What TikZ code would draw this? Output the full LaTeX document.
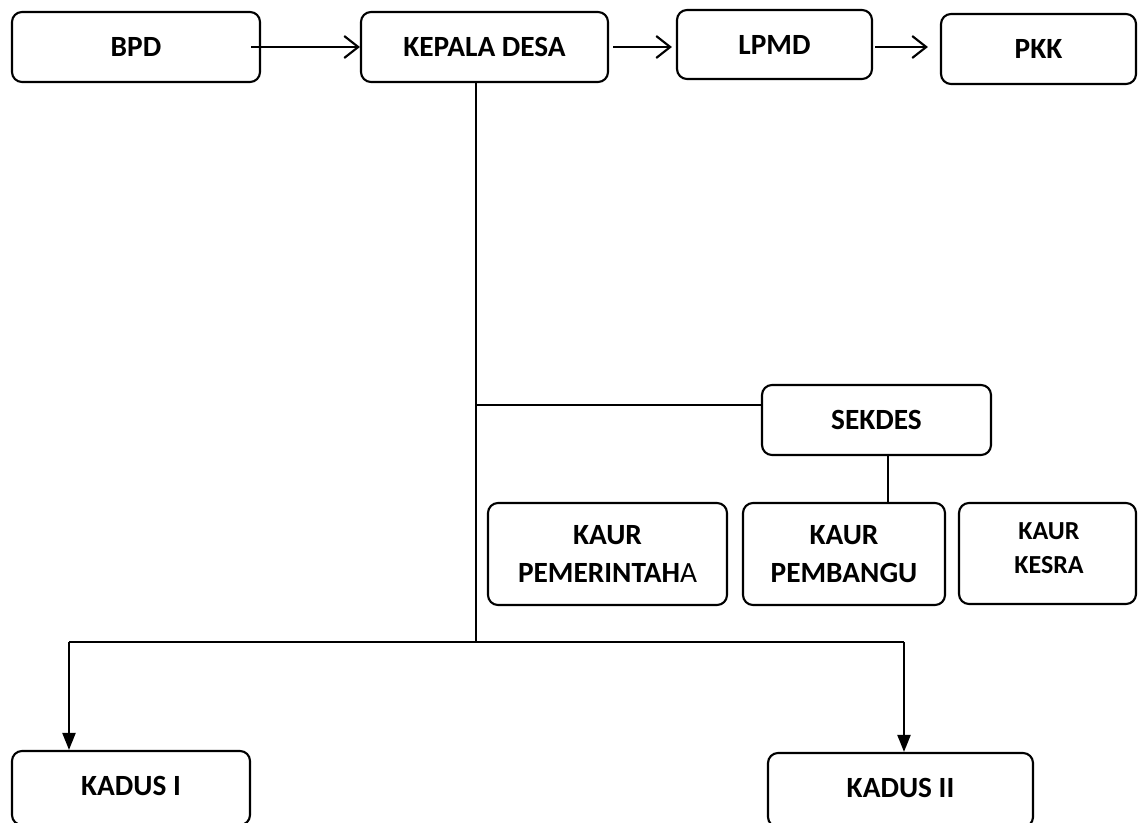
\documentclass[tikz,border=0pt]{standalone}
\usepackage{fontspec}
\setmainfont{Carlito}
\usetikzlibrary{arrows.meta}
\tikzset{
  orgbox/.style={draw, line width=1.6pt, rounded corners=7.5pt, align=center,
    font=\bfseries\fontsize{22}{28.5}\selectfont, inner sep=0pt},
  link/.style={line width=1.6pt},
  openarr/.style={link, -{Straight Barb[length=10.5pt, width=16.5pt]}},
  downarr/.style={link, -{Triangle[length=12.75pt, width=9.75pt]}}
}
\begin{document}
\begin{tikzpicture}[x=0.75pt, y=-0.75pt]
\path[use as bounding box, clip] (0,0) rectangle (1138,823);

% Top row of boxes
\node[orgbox, minimum width=186pt, minimum height=52.5pt] (bpd) at (136,47) {BPD};%
\node[orgbox, minimum width=185.25pt, minimum height=52.5pt] (kades) at (484.5,47) {KEPALA DESA};%
\node[orgbox, minimum width=146.25pt, minimum height=51.75pt] (lpmd) at (774.5,44.5) {LPMD};%
\node[orgbox, minimum width=146.25pt, minimum height=52.5pt] (pkk) at (1038.5,49) {PKK};%

% Arrows between the top boxes
\draw[openarr] ([xshift=-7.5pt]bpd.east) -- (bpd.east -| kades.west);%
\draw[openarr] ([xshift=3pt]kades.east) -- ([xshift=-3pt]kades.east -| lpmd.west);%
\draw[openarr] ([xshift=1.5pt]kades.east -| lpmd.east) -- ([xshift=-9pt]kades.east -| pkk.west);%

% SEKDES and the KAUR boxes
\node[orgbox, minimum width=171.75pt, minimum height=52.5pt] (sekdes) at (876.5,420) {SEKDES};%
\node[orgbox, minimum width=179.25pt, minimum height=76.5pt] (kaurpem) at (607.5,554)
  {KAUR\\PEMERINTAH\textmd{A}};%
\node[orgbox, minimum width=151.5pt, minimum height=76.5pt] (kaurbang) at (844,554)
  {KAUR\\PEMBANGU};%
\node[orgbox, minimum width=132.75pt, minimum height=75.75pt] (kaurkesra) at (1047.5,553.5) {};%
\node[font=\bfseries\fontsize{19.5}{25.5}\selectfont, align=center] (kesratext) at (1049,548) {KAUR\\KESRA};%

% KADUS boxes
\node[orgbox, minimum width=178.5pt, minimum height=55.5pt,
  text depth=3pt] (kadusone) at (131,788) {KADUS I};%
\node[orgbox, minimum width=198.75pt, minimum height=55.5pt,
  text depth=3pt] (kadustwo) at (900.5,790) {KADUS II};%

% Trunk line from KEPALA DESA
\coordinate (trunk) at (476,642);
\coordinate (sekjoin) at (476,405);
\draw[link] (kades.south -| trunk) -- (trunk);%
\draw[link] (sekjoin) -- (sekjoin -| sekdes.west);%
\draw[link] ([xshift=8.6pt]sekdes.south) -- ([xshift=8.6pt]sekdes.south |- kaurbang.north);%

% Branch to the KADUS boxes
\coordinate (lefttap) at (69,642);
\coordinate (righttap) at (904,642);
\draw[link] (lefttap) -- (righttap);%
\draw[downarr] (lefttap) -- (lefttap |- kadusone.north);%
\draw[downarr] (righttap) -- (righttap |- kadustwo.north);%
\end{tikzpicture}
\end{document}
